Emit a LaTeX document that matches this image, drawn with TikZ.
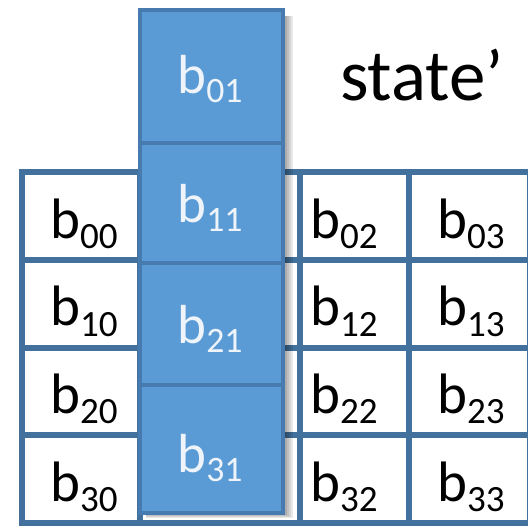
\documentclass[tikz,border=0pt]{standalone}
\usepackage{fontspec}
\setmainfont{Carlito}
\usetikzlibrary{positioning}
\definecolor{CellBlue}{HTML}{5B9BD5}
\definecolor{GridLine}{HTML}{41719C}
\definecolor{BlueLine}{HTML}{477BB0}
\definecolor{PaleText}{HTML}{EEF4FA}
\newcommand{\bidx}[1]{b\raisebox{-0.18em}{\scalebox{0.65}{#1}}}

\begin{document}
\begin{tikzpicture}[
        x=1pt, y=-1pt,
        wcell/.style={draw=GridLine, line width=6pt, fill=white, anchor=north west, inner sep=0pt, outer sep=0pt, minimum height=87.75pt},
        bcell/.style={draw=BlueLine, line width=4pt, fill=CellBlue, anchor=north west, inner sep=0pt, outer sep=0pt, minimum width=143pt},
        wtext/.style={anchor=base west, inner sep=0pt, font=\fontsize{57}{60}\selectfont},
        btext/.style={anchor=base, inner sep=0pt, text=PaleText, font=\fontsize{55}{58}\selectfont}
      ]
        \fill[white] (0,0) rectangle (528,531);
        \useasboundingbox (0,0) rectangle (528,531);

        % the state grid
        \foreach \c/\x/\w in {0/22/118, 1/140/160, 2/300/109, 3/409/121}
          \foreach \r in {0,...,3}
            \node[wcell, minimum width=\w pt] (w\r\c) at (\x, {172+87.75*\r}) {};

        \foreach \c/\dx in {0/28, 2/10, 3/28}
          \foreach \r in {0,...,3}
            \node[wtext, xshift=\dx pt, yshift=-66pt] (t\r\c) at (w\r\c.north west) {\bidx{\r\c}};

        % shadow of the shifted column
        \foreach \s in {1,...,5}
          \fill[black, opacity=0.09] (146,16) rectangle ({283+2*\s}, {513+\s});

        % shifted column
        \foreach \r/\y/\h/\dy in {0/10/133/83, 1/143/120/79, 2/263/122/80, 3/385/128/87} {
          \node[bcell, minimum height=\h pt] (b\r1) at (140,\y) {};
          \node[btext, xshift=-1.5pt, yshift=-\dy pt] (s\r1) at (b\r1.north) {\bidx{\r1}};
        }

        \node[anchor=base west, inner sep=0pt, font=\fontsize{73}{80}\selectfont] (title) at (340,100) {state’};
      \end{tikzpicture}
\end{document}
